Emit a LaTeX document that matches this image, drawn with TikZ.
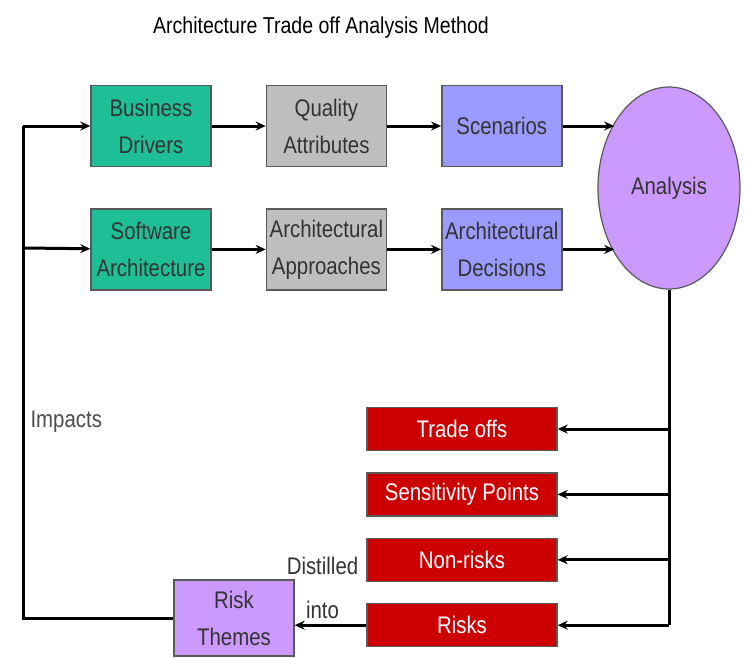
\documentclass[tikz,border=0pt]{standalone}
\usepackage{fontspec}
\setmainfont{Liberation Sans}[FakeStretch=0.85]
\usepackage{tikz}
\usetikzlibrary{positioning, arrows.meta, shapes.geometric}

\definecolor{atamgreen}{RGB}{30,190,150}
\definecolor{atamgray}{RGB}{190,190,190}
\definecolor{atamblue}{RGB}{155,155,255}
\definecolor{atampurple}{RGB}{204,153,255}
\definecolor{atamred}{RGB}{204,0,0}

\begin{document}
\begin{tikzpicture}[x=1pt,y=-1pt,node distance=54pt,font=\fontsize{24}{37}\selectfont]
            \tikzset{box/.style={draw=black!65,line width=1.4pt,minimum width=120pt,minimum height=81pt,align=center,text=black!80,inner sep=1pt}}
            \tikzset{greenbox/.style={box,fill=atamgreen}}
            \tikzset{graybox/.style={box,fill=atamgray}}
            \tikzset{bluebox/.style={box,fill=atamblue}}
            \tikzset{redbox/.style={box,fill=atamred,text=white,minimum width=190pt,minimum height=43pt}}
            \tikzset{flow/.style={line width=3pt,-{Stealth[length=10pt,width=9pt]}}}
            \tikzset{wire/.style={line width=3pt}}

            \useasboundingbox (0,0) rectangle (745,657);

            \node (title) at (321,28) {\fontsize{23}{25}\selectfont Architecture Trade off Analysis Method};

            \node[greenbox] (drivers) at (151,126) {Business\\Drivers};
            \node[graybox] (quality) [right = of drivers] {Quality\\Attributes};
            \node[bluebox] (scenarios) [right = of quality] {Scenarios};

            \node[greenbox] (software) [below = 41pt of drivers] {Software\\Architecture};
            \node[graybox] (approaches) [right = of software] {Architectural\\Approaches};
            \node[bluebox] (decisions) [right = of approaches] {Architectural\\Decisions};

            \node[ellipse,draw=black!65,line width=1.2pt,fill=atampurple,minimum width=142pt,minimum height=202pt,inner sep=0pt,text=black!80] (analysis) at (669,188) {Analysis};

            \node[redbox] (tradeoffs) at (462,429) {Trade offs};
            \node[redbox] (sensitivity) [below = 21pt of tradeoffs] {Sensitivity Points};
            \node[redbox] (nonrisks) [below = 21pt of sensitivity] {Non-risks};
            \node[redbox] (risks) [below = 21pt of nonrisks] {Risks};

            \node[box,fill=atampurple,minimum height=76pt] (themes) at (234,618) {Risk\\Themes};

            \coordinate (trunktop) at (23,126);
            \coordinate (trunkmid) at (23,248);
            \coordinate (trunkbot) at (23,618);
            \coordinate (rightbot) at (analysis.south |- risks.east);

            % upper rows
            \draw[flow] (trunktop) -- (drivers);
            \draw[flow] (trunkmid) -- (software);
            \draw[flow] (drivers) -- (quality);
            \draw[flow] (quality) -- (scenarios);
            \draw[flow] (software) -- (approaches);
            \draw[flow] (approaches) -- (decisions);
            \draw[flow] (scenarios.east) -- (scenarios.east -| analysis.130);
            \draw[flow] (decisions.east) -- (decisions.east -| analysis.230);

            % outputs of the analysis
            \draw[wire] (analysis.south) -- (rightbot);
            \draw[flow] (analysis.south |- tradeoffs.east) -- (tradeoffs);
            \draw[flow] (analysis.south |- sensitivity.east) -- (sensitivity);
            \draw[flow] (analysis.south |- nonrisks.east) -- (nonrisks);
            \draw[flow] (rightbot) -- (risks);

            \draw[flow] (risks.west) -- (risks.west -| themes.east) node[midway,above,align=center,text=black!80,yshift=2pt,xshift=-8pt,font=\fontsize{24}{44}\selectfont] {Distilled\\into};

            % feedback
            \draw[wire] (themes.west) -- (trunkbot) -- (trunktop);
            \node[anchor=west,text=black!70] (impacts) at (27,422) {Impacts};

        \end{tikzpicture}
\end{document}
